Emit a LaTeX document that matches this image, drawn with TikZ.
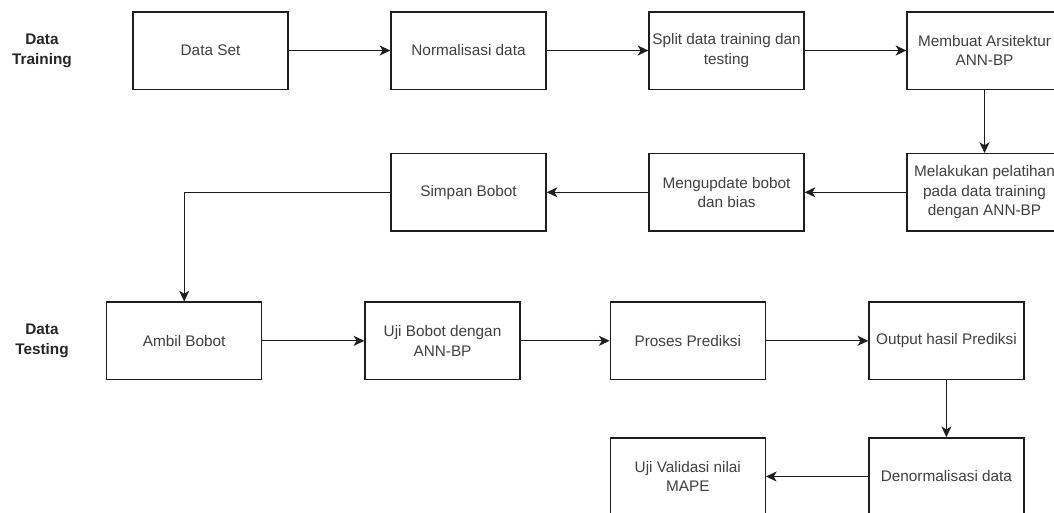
\documentclass[tikz,border=0pt]{standalone}
\usepackage{fontspec}
\setmainfont{Liberation Sans}
\usetikzlibrary{arrows.meta}
\definecolor{boxtext}{RGB}{64,64,64}
\definecolor{linecol}{RGB}{30,30,30}
\tikzset{
  stepbox/.style={draw=linecol, line width=1pt, fill=white,
    minimum width=116.25pt, minimum height=58pt, inner sep=0pt,
    align=center, text=boxtext,
    font=\fontsize{11.5}{14.6}\selectfont},
  phase/.style={align=center, text=black!85,
    font=\fontsize{11.5}{14.6}\selectfont\bfseries},
  flow/.style={draw=linecol, line width=1pt,
    -{Stealth[length=8pt, width=7.5pt, inset=2.2pt]}}
}
\begin{document}
\begin{tikzpicture}[x=0.75pt, y=-0.75pt]
  \useasboundingbox (0,0) rectangle (1054,512);
  \clip (0,0) rectangle (1054,512);
  \fill[white] (0,0) rectangle (1054,512);

  % phase labels
  \node[phase] (ltrain) at (42,51) {Data\\Training};
  \node[phase] (ltest)  at (42,341) {Data\\Testing};

  % training row 1
  \node[stepbox] (dataset) at (210.5,50.5) {Data Set};
  \node[stepbox] (norm)    at (468.5,50.5) {Normalisasi data};
  \node[stepbox] (split)   at (726.5,50.5) {Split data training dan\\testing};
  \node[stepbox] (arsi)    at (984.5,50.5) {Membuat Arsitektur\\ANN-BP};

  % training row 2
  \node[stepbox] (latih)   at (984.5,192.3) {Melakukan pelatihan\\pada data training\\dengan ANN-BP};
  \node[stepbox] (update)  at (726.5,192.3) {Mengupdate bobot\\dan bias};
  \node[stepbox] (simpan)  at (468.5,192.3) {Simpan Bobot};

  % testing row 3
  \node[stepbox] (ambil)   at (184.2,340.8) {Ambil Bobot};
  \node[stepbox] (uji)     at (442.5,340.8) {Uji Bobot dengan\\ANN-BP};
  \node[stepbox] (proses)  at (687.8,340.8) {Proses Prediksi};
  \node[stepbox] (output)  at (946.4,340.8) {Output hasil Prediksi};

  % testing row 4
  \node[stepbox] (denorm)  at (946.4,476.5) {Denormalisasi data};
  \node[stepbox] (mape)    at (687.8,476.5) {Uji Validasi nilai\\MAPE};

  % connectors
  \draw[flow] (dataset) -- (norm);
  \draw[flow] (norm) -- (split);
  \draw[flow] (split) -- (arsi);
  \draw[flow] (arsi) -- (latih);
  \draw[flow] (latih) -- (update);
  \draw[flow] (update) -- (simpan);
  \draw[flow] (simpan.west) -| (ambil.north);
  \draw[flow] (ambil) -- (uji);
  \draw[flow] (uji) -- (proses);
  \draw[flow] (proses) -- (output);
  \draw[flow] (output) -- (denorm);
  \draw[flow] (denorm) -- (mape);
\end{tikzpicture}
\end{document}
